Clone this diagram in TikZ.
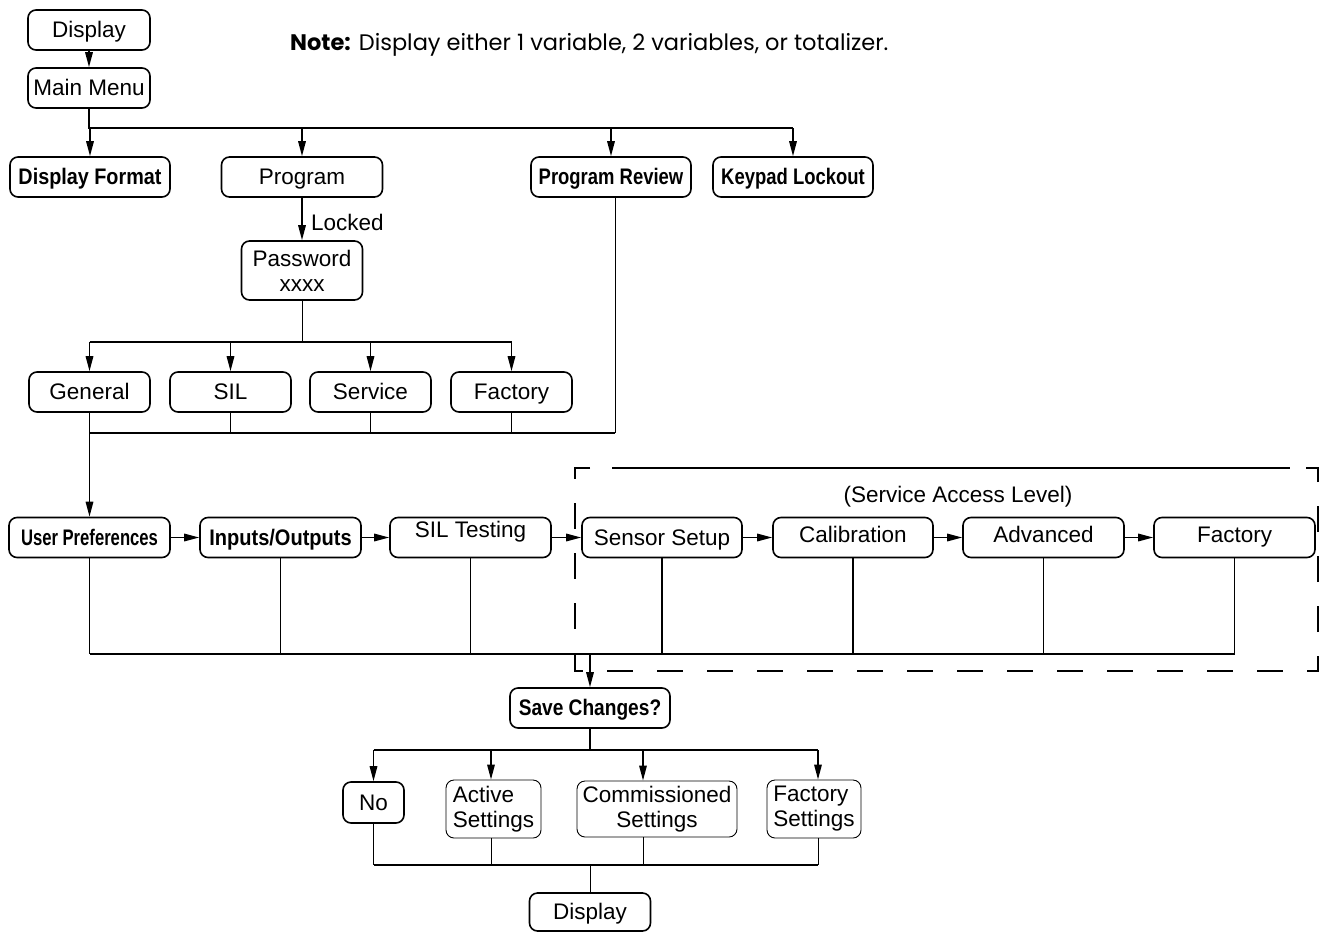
\documentclass[tikz,border=0pt]{standalone}
\usepackage{fontspec}
\usepackage{graphicx}
\setmainfont{Liberation Sans}
\newfontfamily\pop{Poppins}
\usetikzlibrary{arrows.meta}
\newcommand\reg{\fontsize{22.5}{25}\selectfont}
\newcommand\nb[2]{\scalebox{#1}[1]{\bfseries #2}}
\tikzset{
  box/.style={draw, rounded corners=8pt, line width=1.6pt, minimum height=40pt, inner sep=2pt, font=\reg, align=center},
  one/.style={text height=18pt, text depth=3pt},
  thinbox/.style={box, line width=0.9pt},
  ln/.style={line width=1.8pt},
  midln/.style={line width=1.4pt},
  thinln/.style={line width=0.9pt},
  arr/.style={line width=1.6pt, -{Triangle[length=15pt,width=7.5pt]}},
  dashbox/.style={line width=1.8pt, dash pattern=on 26pt off 24pt},
}
\begin{document}
\begin{tikzpicture}[x=1pt,y=-1pt]
\useasboundingbox (0,0) rectangle (1320,932);

% top
\node[box,one,minimum width=122pt] (d1) at (89,30) {Display};
\node[box,one,minimum width=122pt] (mm) at (89,88) {Main Menu};
\node[anchor=west,inner sep=0pt] (note) at (290,45) {\pop\fontsize{22.5}{25}\selectfont\textbf{Note:} Display either 1 variable, 2 variables, or totalizer.};

\node[box,one,minimum width=160pt] (df) at (90,177) {\nb{0.88}{Display Format}};
\node[box,one,minimum width=161pt] (pg) at (302,177) {Program};
\node[box,one,minimum width=160pt] (pr) at (611,177) {\nb{0.82}{Program Review}};
\node[box,one,minimum width=160pt] (kl) at (793,177) {\nb{0.82}{Keypad Lockout}};

\draw[arr] (d1.south) -- (mm.north);
\coordinate (mb) at (89,128);
\draw[ln] (mm.south) |- (kl.north |- mb);
\foreach \n in {df,pg,pr,kl} \draw[arr] (\n.north |- mb) -- (\n.north);

% password
\node[box,minimum width=121pt,minimum height=59pt] (pw) at (302,270.5) {Password\\xxxx};
\draw[arr] (pg.south) -- (pw.north);
\node[anchor=west,font=\reg,inner sep=0pt] (lk) at (311,222) {Locked};

\node[box,one,minimum width=121pt] (ge) at (89.5,392) {General};
\node[box,one,minimum width=121pt] (si) at (230.5,392) {SIL};
\node[box,one,minimum width=121pt] (sv) at (370.5,392) {Service};
\node[box,one,minimum width=121pt] (fa) at (511.5,392) {Factory};

\coordinate (pb) at (302,342);
\draw[thinln] (pw.south) -- (pb);
\draw[ln] (ge.north |- pb) -- (fa.north |- pb);
\foreach \n in {ge,si,sv,fa} \draw[arr] (\n.north |- pb) -- (\n.north);

\coordinate (gb) at (615,433);
\foreach \n in {si,sv,fa} \draw[midln] (\n.south) -- (\n.south |- gb);
\draw[ln] (ge.south |- gb) -- (gb);
\draw[thinln] (gb) -- (gb |- pr.south);

% row
\node[box,one,minimum width=161pt] (up) at (89.5,537.5) {\nb{0.74}{User Preferences}};
\node[box,one,minimum width=161pt] (io) at (280.5,537.5) {\nb{0.89}{Inputs/Outputs}};
\node[box,minimum width=161pt,text height=16pt,text depth=17pt] (st) at (470.5,537.5) {SIL Testing};
\node[box,one,minimum width=160pt] (ss) at (662,537.5) {Sensor Setup};
\node[box,minimum width=160pt,text height=16pt,text depth=7pt] (ca) at (853,537.5) {Calibration};
\node[box,minimum width=161pt,text height=16pt,text depth=7pt] (ad) at (1043.5,537.5) {Advanced};
\node[box,minimum width=161pt,text height=16pt,text depth=7pt] (f2) at (1234.5,537.5) {Factory};

\draw[arr] (ge.south) -- (up.north);
\draw[arr] (up.east) -- (io.west);
\draw[arr] (io.east) -- (st.west);
\draw[arr] (st.east) -- (ss.west);
\draw[arr] (ss.east) -- (ca.west);
\draw[arr] (ca.east) -- (ad.west);
\draw[arr] (ad.east) -- (f2.west);

\node[font=\reg,inner sep=0pt] (sal) at (958,497) {(Service Access Level)};

\coordinate (rb) at (0,654);
\foreach \n in {up,io,st,ss,ca,ad,f2} \draw[midln] (\n.south) -- (\n.south |- rb);
\draw[ln] (up.south |- rb) -- (f2.south |- rb);

% dashed service box
\draw[ln] (612,468) -- (1290,468);
\draw[dashbox] (590,468) -- (575,468) -- (575,671) -- (1318,671) -- (1318,468) -- (1303,468);

% save changes
\node[box,one,minimum width=160pt] (sc) at (590,708) {\nb{0.85}{Save Changes?}};
\draw[arr] (sc.north |- rb) -- (sc.north);

\node[box,one,minimum width=61pt,minimum height=41pt] (no) at (373.5,802.5) {No};
\node[thinbox,minimum width=95pt,minimum height=58pt,align=left] (as) at (493.5,809) {Active\\Settings};
\node[thinbox,minimum width=160pt,minimum height=56pt] (cs) at (657,809) {Commissioned\\Settings};
\node[thinbox,minimum width=94pt,minimum height=58pt,align=left] (fs) at (814,809) {Factory\\Settings};

\coordinate (sb) at (0,750);
\coordinate (xa) at (491,0);
\coordinate (xc) at (643,0);
\coordinate (xf) at (818,0);
\draw[ln] (sc.south) -- (sc.south |- sb);
\draw[midln] (no.north |- sb) -- (xf |- sb);
\draw[arr] (no.north |- sb) -- (no.north);
\draw[arr] (xa |- sb) -- (xa |- as.north);
\draw[arr] (xc |- sb) -- (xc |- cs.north);
\draw[arr] (xf |- sb) -- (xf |- fs.north);

\node[box,one,minimum width=121pt,minimum height=38pt] (db) at (590,912) {Display};

\coordinate (bb) at (0,865);
\draw[thinln] (no.south) -- (no.south |- bb);
\draw[thinln] (xa |- as.south) -- (xa |- bb);
\draw[thinln] (xc |- cs.south) -- (xc |- bb);
\draw[thinln] (xf |- fs.south) -- (xf |- bb);
\draw[ln] (no.south |- bb) -- (xf |- bb);
\draw[thinln] (db.north |- bb) -- (db.north);
\end{tikzpicture}
\end{document}
